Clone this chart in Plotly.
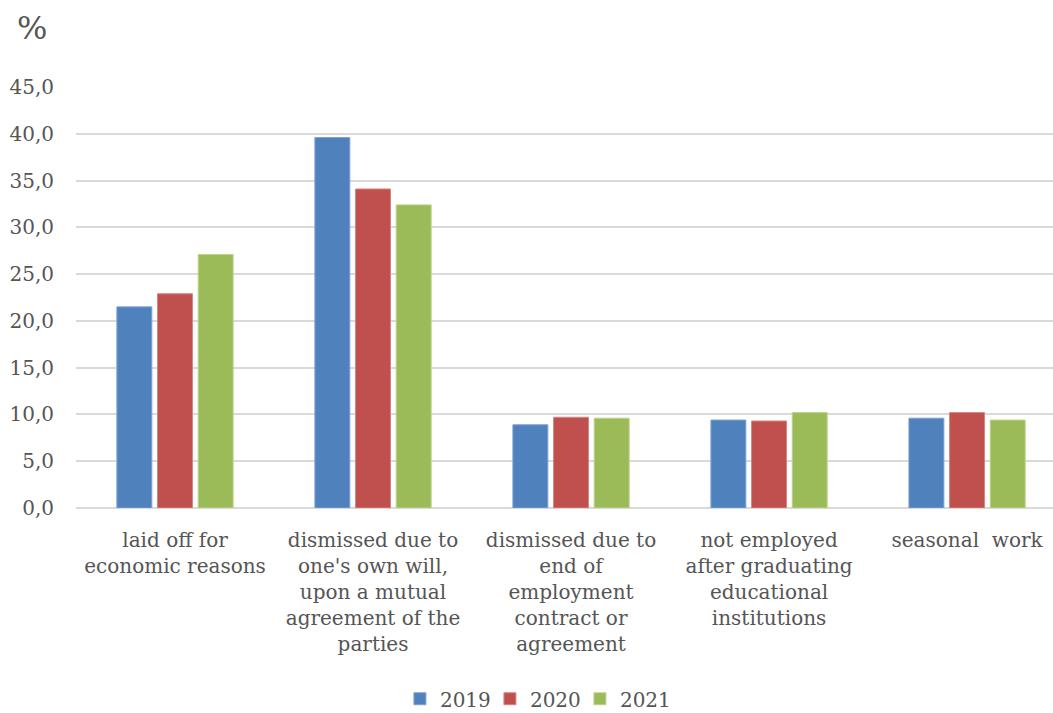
import plotly.graph_objects as go

categories = [
    "laid off for<br>economic reasons",
    "dismissed due to<br>one's own will,<br>upon a mutual<br>agreement of the<br>parties",
    "dismissed due to<br>end of<br>employment<br>contract or<br>agreement",
    "not employed<br>after graduating<br>educational<br>institutions",
    "seasonal  work",
]
years = ["2019", "2020", "2021"]
values_2019 = [21.5, 39.6, 8.9, 9.4, 9.6]
values_2020 = [22.9, 34.1, 9.7, 9.3, 10.2]
values_2021 = [27.1, 32.4, 9.6, 10.2, 9.4]
colors = ["#4F81BD", "#C0504D", "#9BBB59"]
edge_colors = ["#7FA3D3", "#D88482", "#BCD48A"]
tick_vals = [0, 5, 10, 15, 20, 25, 30, 35, 40, 45]
tick_text = ["0,0", "5,0", "10,0", "15,0", "20,0", "25,0", "30,0", "35,0", "40,0", "45,0"]

FONT = "DejaVu Serif"
TEXT_COLOR = "#555555"

fig = go.Figure()
for name, vals, col, edge in zip(years, [values_2019, values_2020, values_2021], colors, edge_colors):
    fig.add_trace(go.Bar(
        x=list(range(len(categories))),
        y=vals,
        name=name,
        marker=dict(color=col, line=dict(color=edge, width=1)),
    ))

fig.update_layout(
    width=1053,
    height=713,
    barmode="group",
    bargap=0.384,
    bargroupgap=0.14,
    plot_bgcolor="white",
    paper_bgcolor="white",
    margin=dict(l=76, r=0, t=87, b=205, autoexpand=False),
    font=dict(family=FONT, size=20, color=TEXT_COLOR),
    showlegend=True,
    legend=dict(
        orientation="h",
        xref="container",
        yref="container",
        x=0.508,
        xanchor="center",
        y=0.02,
        yanchor="middle",
        font=dict(size=20, color=TEXT_COLOR),
        itemwidth=30,
        entrywidth=45,
        entrywidthmode="pixels",
        traceorder="normal",
    ),
    xaxis=dict(
        tickmode="array",
        tickvals=list(range(len(categories))),
        ticktext=categories,
        range=[-0.5, 4.434],
        showgrid=False,
        showline=False,
        zeroline=False,
        ticks="",
        tickangle=0,
        ticklabelstandoff=18,
        automargin=False,
    ),
    yaxis=dict(
        range=[0, 45],
        tickmode="array",
        tickvals=tick_vals,
        ticktext=tick_text,
        showgrid=True,
        gridcolor="#D9D9D9",
        gridwidth=1.5,
        zeroline=True,
        zerolinecolor="#D9D9D9",
        zerolinewidth=1.5,
        showline=False,
        ticks="",
        ticklabelstandoff=21,
        automargin=False,
    ),
    annotations=[
        dict(
            text="%",
            xref="paper", yref="paper",
            x=-0.045, y=1.14,
            xanchor="center", yanchor="middle",
            showarrow=False,
            font=dict(family=FONT, size=32, color=TEXT_COLOR),
        )
    ],
)

fig.write_html("out.html")
